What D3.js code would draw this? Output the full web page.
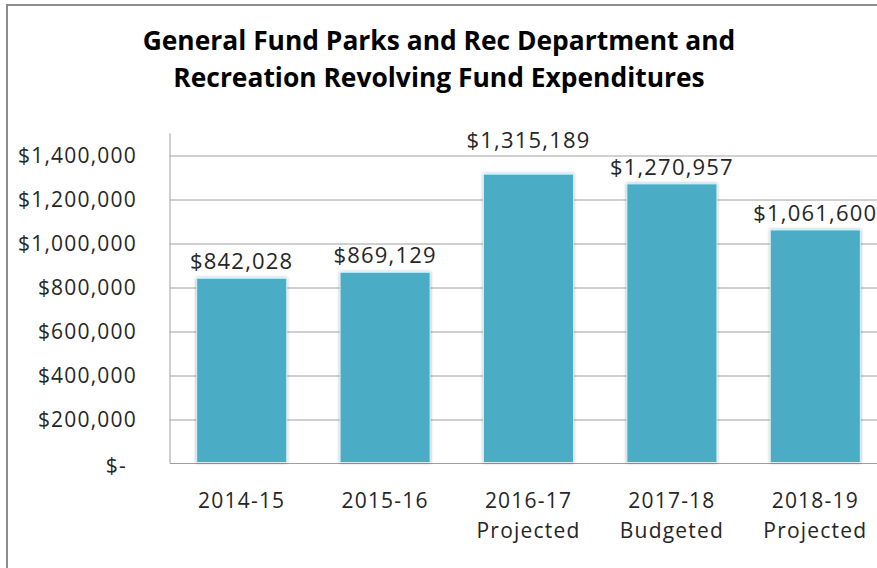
<!DOCTYPE html>
<html>
<head>
<meta charset="utf-8">
<title>Parks and Rec Expenditures</title>
<script src="https://cdn.jsdelivr.net/npm/d3@7/dist/d3.min.js"></script>
<style>
    html, body { margin: 0; padding: 0; background: #fff; }
    svg { display: block; }
    .lbl { font-family: "Open Sans", sans-serif; fill: #262626; letter-spacing: 1.2px; }
    .title { font-family: "Open Sans", sans-serif; font-weight: 700; fill: #000; }
</style>
</head>
<body>
<svg id="chart" width="877" height="568"></svg>
<script>
    // values
    var years = ["2014-15", "2015-16", "2016-17", "2017-18", "2018-19"];
    var stages = ["", "", "Projected", "Budgeted", "Projected"];
    var expenditures = [842028, 869129, 1315189, 1270957, 1061600];
    var yTicks = [0, 200000, 400000, 600000, 800000, 1000000, 1200000, 1400000];
    var titleLines = ["General Fund Parks and Rec Department and", "Recreation Revolving Fund Expenditures"];

    var svg = d3.select("#chart");

    var plotLeft = 170, plotRight = 887, plotTop = 133.5, plotBase = 463.5;

    var x = d3.scaleBand().domain(years).range([plotLeft, plotRight])
        .paddingInner(0.372).paddingOuter(0.186);
    var y = d3.scaleLinear().domain([0, 1500000]).range([plotBase, plotTop]);

    var money = d3.format("$,");

    // chart frame (cut off at the right and bottom in the original)
    svg.append("rect")
        .attr("x", 7).attr("y", 5)
        .attr("width", 920).attr("height", 620)
        .attr("fill", "none").attr("stroke", "#8c8c8c").attr("stroke-width", 2);

    // title
    svg.append("g").selectAll("text")
        .data(titleLines)
        .join("text")
        .attr("class", "title")
        .attr("x", 439)
        .attr("y", function (d, i) { return 49.5 + i * 37.5; })
        .attr("text-anchor", "middle")
        .style("font-size", "26.4px")
        .text(function (d) { return d; });

    // gridlines
    svg.append("g")
        .attr("transform", "translate(" + plotLeft + ",0)")
        .call(d3.axisRight(y).tickValues(yTicks.slice(1)).tickSize(877 - plotLeft).tickFormat(""))
        .call(function (g) { g.select(".domain").remove(); })
        .selectAll("line").attr("stroke", "#a0a0a0");

    // y labels
    var yAxis = svg.append("g")
        .attr("transform", "translate(" + plotLeft + ",0)")
        .call(d3.axisLeft(y).tickValues(yTicks).tickSize(0).tickPadding(33)
            .tickFormat(function (d) { return d === 0 ? "$-" : money(d); }));
    yAxis.select(".domain").remove();
    yAxis.selectAll("text")
        .attr("class", "lbl")
        .attr("font-family", null).attr("fill", null)
        .style("font-size", "21px")
        .attr("dx", function (d) { return d === 0 ? -10 : 0; })
        .attr("dy", function (d) { return d === 0 ? "0.45em" : "0.35em"; });

    // axis lines
    svg.append("line")
        .attr("x1", plotLeft).attr("x2", plotLeft)
        .attr("y1", y(1500000)).attr("y2", plotBase)
        .attr("stroke", "#a0a0a0");
    svg.append("line")
        .attr("x1", plotLeft).attr("x2", 877)
        .attr("y1", plotBase).attr("y2", plotBase)
        .attr("stroke", "#a0a0a0");

    // bar shadow
    var defs = svg.append("defs");
    var f = defs.append("filter").attr("id", "shadow")
        .attr("x", "-10%").attr("y", "-10%").attr("width", "120%").attr("height", "120%");
    f.append("feDropShadow").attr("dx", 0).attr("dy", 0).attr("stdDeviation", 1.6)
        .attr("flood-color", "#000").attr("flood-opacity", 0.35);

    svg.append("g").selectAll("rect")
        .data(expenditures)
        .join("rect")
        .attr("x", function (d, i) { return x(years[i]); })
        .attr("y", function (d) { return y(d); })
        .attr("width", x.bandwidth())
        .attr("height", function (d) { return plotBase - 1 - y(d); })
        .attr("fill", "#4bacc6")
        .attr("stroke", "#d6eef4").attr("stroke-width", 1)
        .attr("filter", "url(#shadow)");

    // value labels; the 2016-17 one was lifted by hand in the original
    var lifted = {"2016-17": 17.5};
    svg.append("g").selectAll("text")
        .data(expenditures)
        .join("text")
        .attr("class", "lbl")
        .attr("x", function (d, i) { return x(years[i]) + x.bandwidth() / 2; })
        .attr("y", function (d, i) { return y(d) - 9 - (lifted[years[i]] || 0); })
        .attr("text-anchor", "middle")
        .style("font-size", "22px")
        .text(function (d) { return money(d); });

    // category labels
    var cat = svg.append("g").selectAll("text")
        .data(years)
        .join("text")
        .attr("class", "lbl")
        .attr("x", function (d) { return x(d) + x.bandwidth() / 2; })
        .attr("y", 507.5)
        .attr("text-anchor", "middle")
        .style("font-size", "21px");
    cat.append("tspan").text(function (d) { return d; });
    cat.append("tspan")
        .attr("x", function (d) { return x(d) + x.bandwidth() / 2; })
        .attr("dy", 30)
        .text(function (d, i) { return stages[i]; });
</script>
</body>
</html>
